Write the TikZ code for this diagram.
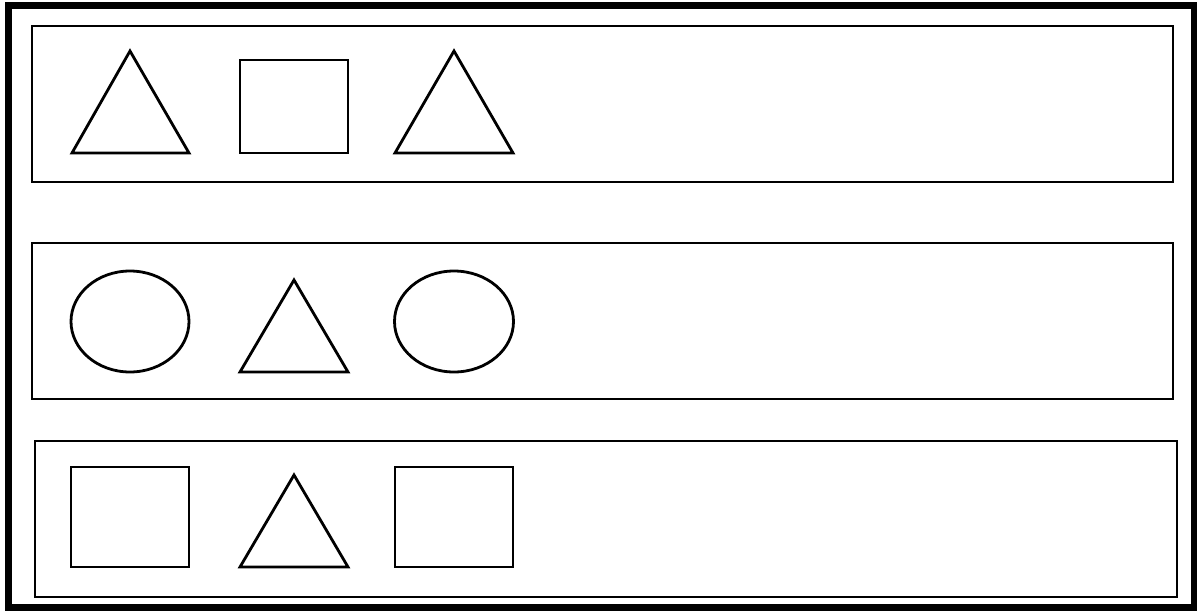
\documentclass[tikz,border=0pt]{standalone}
\begin{document}
\begin{tikzpicture}[x=1pt,y=-1pt,
  shapeline/.style={draw=black,line width=2.8pt,line join=miter},
  panelline/.style={draw=black,line width=2.5pt},
  frameline/.style={draw=black,line width=7pt}]
\useasboundingbox (0,0) rectangle (1197,611);
\fill[white] (0,0) rectangle (1197,611);
% outer frame
\draw[frameline] (8,5.5) rectangle (1194,607);
% panels
\draw[panelline] (32,26) rectangle (1173,182);
\draw[panelline] (32,243) rectangle (1173,399);
\draw[panelline] (35,441) rectangle (1177,597);
% row 1
\draw[shapeline] (72,153) -- (130,51) -- (189,153) -- cycle;
\draw[shapeline] (240,60) rectangle (348,153);
\draw[shapeline] (395,153) -- (454,51) -- (513,153) -- cycle;
% row 2
\draw[shapeline] (130,321.5) ellipse [x radius=59, y radius=50.5];
\draw[shapeline] (240,372) -- (294,280) -- (348,372) -- cycle;
\draw[shapeline] (454,321.5) ellipse [x radius=59.5, y radius=50.5];
% row 3
\draw[shapeline] (71,467) rectangle (189,567);
\draw[shapeline] (240,567) -- (294,475) -- (348,567) -- cycle;
\draw[shapeline] (395,467) rectangle (513,567);
\end{tikzpicture}
\end{document}
